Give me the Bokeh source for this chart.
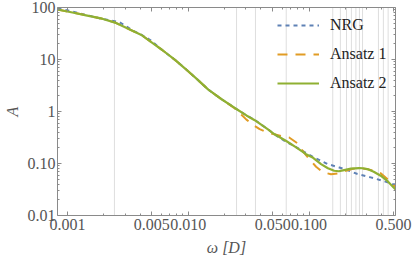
from bokeh.plotting import figure
from bokeh.models import Range1d, LogAxis, FixedTicker, Span, Legend, LegendItem, CustomJSTickFormatter
from bokeh.embed import file_html
from bokeh.resources import INLINE

# ---- data ----
omega_nrg = [0.000828, 0.0011, 0.00146, 0.00188, 0.0022, 0.002664, 0.00303, 0.00354, 0.00414, 0.00485,
             0.00605, 0.00778, 0.00942, 0.01175, 0.01466, 0.01888, 0.02427, 0.0303, 0.0355, 0.0457,
             0.0518, 0.0627, 0.0752, 0.091, 0.1106, 0.1426, 0.1774, 0.2094, 0.2517, 0.3236,
             0.3915, 0.4887, 0.52]
A_nrg = [95.7, 83.9, 71.0, 61.1, 57.0, 52.9, 44.4, 35.1, 29.5, 23.7,
         15.4, 9.8, 6.70, 4.23, 2.63, 1.72, 1.17, 0.84, 0.69, 0.453,
         0.364, 0.271, 0.218, 0.167, 0.130, 0.0974, 0.0839, 0.0741, 0.0628, 0.0541,
         0.0478, 0.0405, 0.0393]

omega_a1 = [0.000828, 0.0011, 0.00146, 0.00194, 0.00248, 0.0030, 0.00363, 0.00414, 0.00501, 0.00605,
            0.00778, 0.00942, 0.01175, 0.01466, 0.01888, 0.02427, 0.02655, 0.0303, 0.0346, 0.039,
            0.04426, 0.0506, 0.0588, 0.0684, 0.0796, 0.091, 0.1, 0.1143, 0.1303, 0.1517,
            0.1766, 0.2016, 0.2302, 0.268, 0.306, 0.3427, 0.3915, 0.4467, 0.491, 0.52]
A_a1 = [91.6, 80.3, 70.0, 60.9, 51.3, 41.7, 33.8, 29.2, 21.2, 15.4,
        9.8, 6.70, 4.23, 2.63, 1.72, 1.15, 0.948, 0.698, 0.548, 0.459,
        0.403, 0.369, 0.338, 0.316, 0.248, 0.160, 0.123, 0.0865, 0.0679, 0.0622,
        0.065, 0.0726, 0.0792, 0.081, 0.0775, 0.0726, 0.065, 0.0499, 0.041, 0.0352]

omega_a2 = [0.000828, 0.0011, 0.00146, 0.00194, 0.00248, 0.0030, 0.00363, 0.00414, 0.00501, 0.00605,
            0.00778, 0.00942, 0.01175, 0.01466, 0.01888, 0.02427, 0.0303, 0.0355, 0.0457, 0.0518,
            0.0647, 0.0782, 0.0944, 0.108, 0.1256, 0.1432, 0.1614, 0.1766, 0.1952, 0.2218,
            0.2594, 0.278, 0.304, 0.3427, 0.3915, 0.4467, 0.52]
A_a2 = [91.6, 80.3, 70.0, 60.9, 51.3, 41.7, 33.8, 29.2, 21.2, 15.4,
        9.8, 6.70, 4.23, 2.63, 1.72, 1.17, 0.84, 0.68, 0.453, 0.364,
        0.271, 0.204, 0.151, 0.1285, 0.0974, 0.081, 0.0726, 0.071, 0.0748, 0.080,
        0.0817, 0.081, 0.0782, 0.0695, 0.0582, 0.0457, 0.0315]

grid_omega = [0.00245, 0.0251, 0.036, 0.0647, 0.157, 0.1815, 0.204, 0.224, 0.244, 0.261,
              0.277, 0.375, 0.412, 0.451]

x_major = [0.001, 0.005, 0.01, 0.05, 0.1, 0.5]
x_labels = ["0.001", "0.005", "0.010", "0.050", "0.100", "0.500"]
x_minor = [0.002, 0.003, 0.004, 0.006, 0.007, 0.008, 0.009,
           0.02, 0.03, 0.04, 0.06, 0.07, 0.08, 0.09, 0.2, 0.3, 0.4]
y_major = [0.01, 0.1, 1, 10, 100]
y_labels = ["0.01", "0.10", "1", "10", "100"]
y_minor = [k * 10.0 ** e for e in range(-2, 2) for k in range(2, 10)]

series_names = ["NRG", "Ansatz 1", "Ansatz 2"]
colors = ["#5E81B5", "#E19C24", "#8FB032"]

FONT = "Liberation Serif"
TEXT = "#555555"
AXIS = "#8a8a8a"

p = figure(width=415, height=260, x_axis_type="log", y_axis_type="log",
           x_range=Range1d(0.000828, 0.519), y_range=Range1d(0.01, 100),
           output_backend="svg", toolbar_location=None,
           min_border_left=55, min_border_right=20, min_border_top=7, min_border_bottom=45)
p.grid.visible = False
p.outline_line_color = None
p.background_fill_color = "white"

for g in grid_omega:
    p.add_layout(Span(location=g, dimension="height", line_color="#dedede",
                      line_width=1, level="underlay"))

r_nrg = p.line(omega_nrg, A_nrg, line_color=colors[0], line_width=2, line_dash="4 4")
r_a1 = p.line(omega_a1, A_a1, line_color=colors[1], line_width=2, line_dash="10 8")
r_a2 = p.line(omega_a2, A_a2, line_color=colors[2], line_width=2.2)


def style_axis(ax, major, minor, labels=None):
    ax.ticker = FixedTicker(ticks=major, minor_ticks=minor)
    ax.axis_line_color = AXIS
    ax.major_tick_line_color = AXIS
    ax.minor_tick_line_color = AXIS
    ax.major_tick_in = 4
    ax.major_tick_out = 0
    ax.minor_tick_in = 2
    ax.minor_tick_out = 0
    if labels is None:
        ax.formatter = CustomJSTickFormatter(code="return ''")
        ax.major_label_standoff = 0
    else:
        ax.major_label_overrides = {v: s for v, s in zip(major, labels)}
        ax.major_label_text_font = FONT
        ax.major_label_text_font_size = "16px"
        ax.major_label_text_color = TEXT
    ax.axis_label_text_font = FONT
    ax.axis_label_text_font_size = "16px"
    ax.axis_label_text_font_style = "italic"
    ax.axis_label_text_color = TEXT


xa = p.xaxis[0]
style_axis(xa, x_major, x_minor, x_labels)
xa.axis_label = "ω [D]"
xa.major_label_standoff = 3
xa.axis_label_standoff = 6

ya = p.yaxis[0]
style_axis(ya, y_major, y_minor, y_labels)
ya.axis_label = "A"
ya.major_label_standoff = 2
ya.axis_label_standoff = 4

top = LogAxis()
style_axis(top, x_major, x_minor)
p.add_layout(top, "above")
right = LogAxis()
style_axis(right, y_major, y_minor)
p.add_layout(right, "right")

legend = Legend(items=[LegendItem(label=n, renderers=[r]) for n, r in zip(series_names, [r_nrg, r_a1, r_a2])],
                location=(220, 122), border_line_color=None, background_fill_alpha=0,
                label_text_font=FONT, label_text_font_size="16px", label_text_color="#222222",
                glyph_width=42, glyph_height=20, label_height=20, spacing=9,
                padding=0, margin=0, label_standoff=11)
p.add_layout(legend)

open("out.html", "w").write(file_html(p, INLINE))
